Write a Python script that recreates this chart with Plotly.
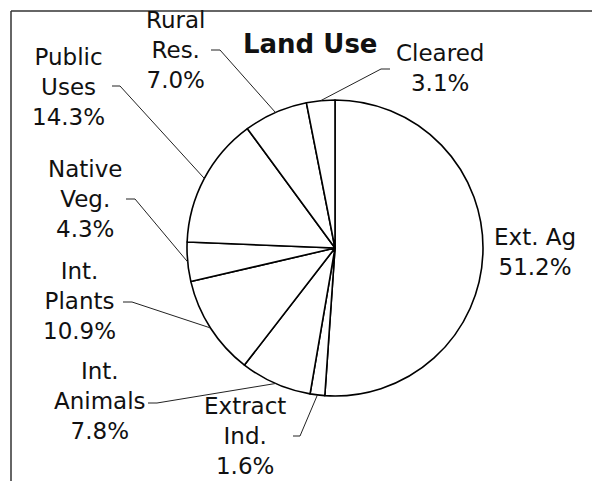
import math
import plotly.graph_objects as go

# ---- data ----
categories = ["Ext. Ag", "Extract Ind.", "Int. Animals", "Int. Plants",
              "Native Veg.", "Public Uses", "Rural Res.", "Cleared"]
label_text = ["Ext. Ag", "Extract<br>Ind.", "Int.<br>Animals", "Int.<br>Plants",
              "Native<br>Veg.", "Public<br>Uses", "Rural<br>Res.", "Cleared"]
shares = [51.2, 1.6, 7.8, 10.9, 4.3, 14.3, 7.0, 3.1]
title_text = "Land Use"

# ---- layout (pixels) ----
W, H = 592, 481
CX, CY, R = 335, 248, 148
FONT = "DejaVu Sans"
# label block centre, elbow start (text side), elbow end (None = no leader)
label_pos = {
    "Ext. Ag":      ((535, 252), None, None),
    "Extract Ind.": ((245, 436), (293, 436), (300, 436)),
    "Int. Animals": ((100, 401), (148, 403), (157, 403)),
    "Int. Plants":  ((79, 301), (123, 302), (132, 302)),
    "Native Veg.":  ((85, 199), (126, 199), (135, 199)),
    "Public Uses":  ((68, 87), (112, 86), (120, 86)),
    "Rural Res.":   ((175, 50), (211, 50), (220, 50)),
    "Cleared":      ((440, 68), (390, 69), (381, 69)),
}


def px(x):
    return x / W


def py(y):
    return 1 - y / H


fig = go.Figure(go.Pie(
    labels=categories, values=shares, sort=False, direction="clockwise",
    rotation=0, textinfo="none", showlegend=False,
    marker=dict(colors=["white"] * len(shares), line=dict(color="black", width=1.6)),
    domain=dict(x=[px(CX - R), px(CX + R)], y=[py(CY + R), py(CY - R)]),
))

total = sum(shares)
cum = 0.0
shapes = []
annotations = []
for cat, txt, v in zip(categories, label_text, shares):
    mid = (cum + v / 2) / total * 2 * math.pi
    cum += v
    ex = CX + R * math.sin(mid)
    ey = CY - R * math.cos(mid)
    (tx, ty), e1, e2 = label_pos[cat]
    annotations.append(dict(
        x=px(tx), y=py(ty), xref="paper", yref="paper", showarrow=False,
        text=f"{txt}<br>{v:.1f}%", xanchor="center", yanchor="middle",
        align="center", font=dict(family=FONT, size=23, color="#111")))
    if e1 is not None:
        path = (f"M {px(e1[0])},{py(e1[1])} L {px(e2[0])},{py(e2[1])} "
                f"L {px(ex)},{py(ey)}")
        shapes.append(dict(type="path", xref="paper", yref="paper", path=path,
                           line=dict(color="#222", width=1)))

# chart frame (left and top edges)
shapes.append(dict(type="line", xref="paper", yref="paper",
                   x0=px(11), y0=0, x1=px(11), y1=py(11),
                   line=dict(color="#333", width=1.5)))
shapes.append(dict(type="line", xref="paper", yref="paper",
                   x0=px(11), y0=py(11), x1=1, y1=py(11),
                   line=dict(color="#333", width=1.5)))

annotations.append(dict(
    x=px(310), y=py(44), xref="paper", yref="paper", showarrow=False,
    text=f"<b>{title_text}</b>", xanchor="center", yanchor="middle",
    font=dict(family=FONT, size=26, color="#111")))

fig.update_layout(
    width=W, height=H, margin=dict(l=0, r=0, t=0, b=0),
    paper_bgcolor="white", plot_bgcolor="white",
    shapes=shapes, annotations=annotations,
)

fig.write_html("out.html", config={"displayModeBar": False},
               post_script="document.body.style.margin='0';"
                           "document.body.style.overflow='hidden';")
